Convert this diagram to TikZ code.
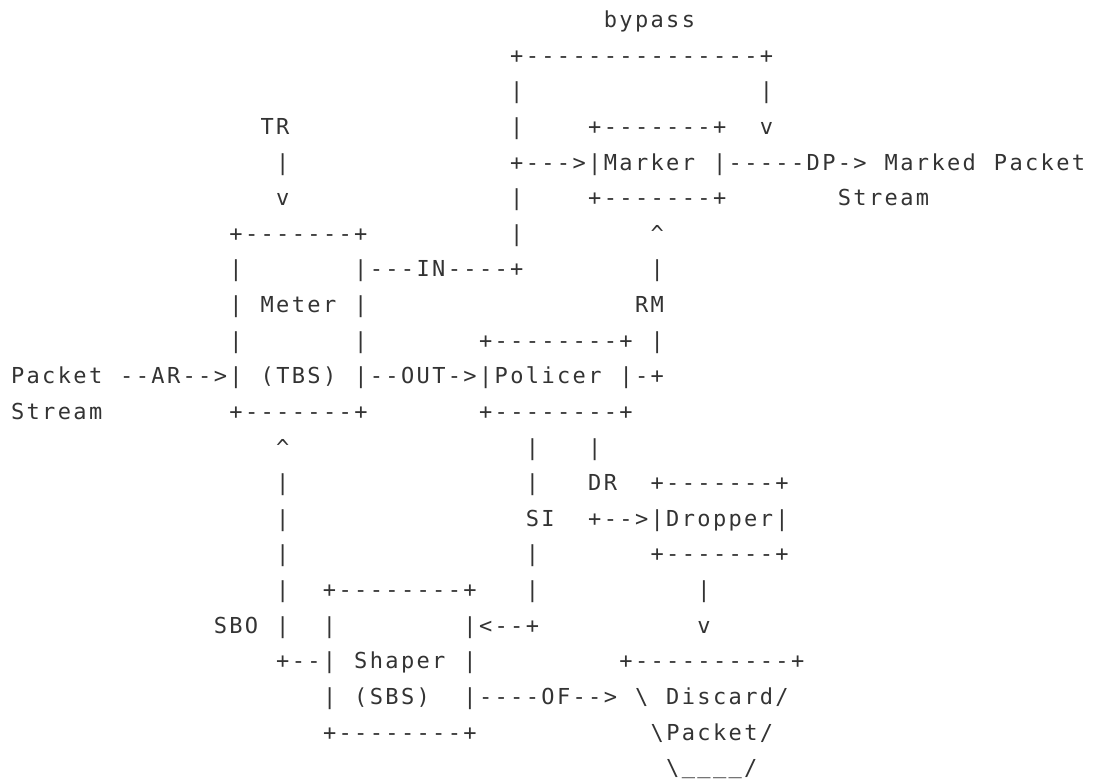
\documentclass[tikz,border=0pt]{standalone}
\usepackage{fontspec}
\setmonofont{DejaVu Sans Mono}[LetterSpace=10.73]
\definecolor{ink}{HTML}{333333}
% width of one character cell, and the tracking lost at the end of a word
\newlength\charw
\setlength\charw{15.6pt}
\newlength\trk
\setlength\trk{2.355pt}
% blank character cells after a word (default one)
\newcommand\gap[1][1]{\hspace*{\dimexpr#1\charw+\trk\relax}}
\tikzset{
  textrow/.style={anchor=base west, inner sep=0pt, outer sep=0pt, text=ink,
    font=\fontsize{22pt}{26pt}\selectfont\ttfamily},
}
% column / row of the character grid
\newcommand\cx[1]{11pt+#1*15.6pt}
\newcommand\ry[1]{-27.5pt-(#1-1)*35.63pt}
\begin{document}
\begin{tikzpicture}[x=1pt,y=1pt]
  \useasboundingbox (0,0) rectangle (1093,-781);
  \node[textrow] (row1)  at ({\cx{38}},{\ry{1}})  {bypass};
  \node[textrow] (row2)  at ({\cx{32}},{\ry{2}})  {+---------------+};
  \node[textrow] (row3)  at ({\cx{32}},{\ry{3}})  {|\gap[15]|};
  \node[textrow] (row4)  at ({\cx{16}},{\ry{4}})  {TR\gap[14]|\gap[4]+-------+\gap[2]v};
  \node[textrow] (row5)  at ({\cx{17}},{\ry{5}})  {|\gap[14]+--->|Marker\gap|-----DP->\gap Marked\gap Packet};
  \node[textrow] (row6)  at ({\cx{17}},{\ry{6}})  {v\gap[14]|\gap[4]+-------+\gap[7]Stream};
  \node[textrow] (row7)  at ({\cx{14}},{\ry{7}})  {+-------+\gap[9]|\gap[8]\textasciicircum};
  \node[textrow] (row8)  at ({\cx{14}},{\ry{8}})  {|\gap[7]|---IN----+\gap[8]|};
  \node[textrow] (row9)  at ({\cx{14}},{\ry{9}})  {|\gap Meter\gap|\gap[17]RM};
  \node[textrow] (row10) at ({\cx{14}},{\ry{10}}) {|\gap[7]|\gap[7]+--------+\gap|};
  \node[textrow] (row11) at ({\cx{0}},{\ry{11}})  {Packet\gap--AR-->|\gap(TBS)\gap|--OUT->|Policer\gap|-+};
  \node[textrow] (row12) at ({\cx{0}},{\ry{12}})  {Stream\gap[8]+-------+\gap[7]+--------+};
  \node[textrow] (row13) at ({\cx{17}},{\ry{13}}) {\textasciicircum\gap[15]|\gap[3]|};
  \node[textrow] (row14) at ({\cx{17}},{\ry{14}}) {|\gap[15]|\gap[3]DR\gap[2]+-------+};
  \node[textrow] (row15) at ({\cx{17}},{\ry{15}}) {|\gap[15]SI\gap[2]+-->|Dropper|};
  \node[textrow] (row16) at ({\cx{17}},{\ry{16}}) {|\gap[15]|\gap[7]+-------+};
  \node[textrow] (row17) at ({\cx{17}},{\ry{17}}) {|\gap[2]+--------+\gap[3]|\gap[10]|};
  \node[textrow] (row18) at ({\cx{13}},{\ry{18}}) {SBO\gap|\gap[2]|\gap[8]|<--+\gap[10]v};
  \node[textrow] (row19) at ({\cx{17}},{\ry{19}}) {+--|\gap Shaper\gap|\gap[9]+----------+};
  \node[textrow] (row20) at ({\cx{20}},{\ry{20}}) {|\gap(SBS)\gap[2]|----OF-->\gap\textbackslash\gap Discard/};
  \node[textrow] (row21) at ({\cx{20}},{\ry{21}}) {+--------+\gap[11]\textbackslash Packet/};
  \node[textrow] (row22) at ({\cx{42}},{\ry{22}}) {\textbackslash\gap[0]\raisebox{2.5pt}{\_\_\_\_}\gap[0]/};
\end{tikzpicture}
\end{document}
